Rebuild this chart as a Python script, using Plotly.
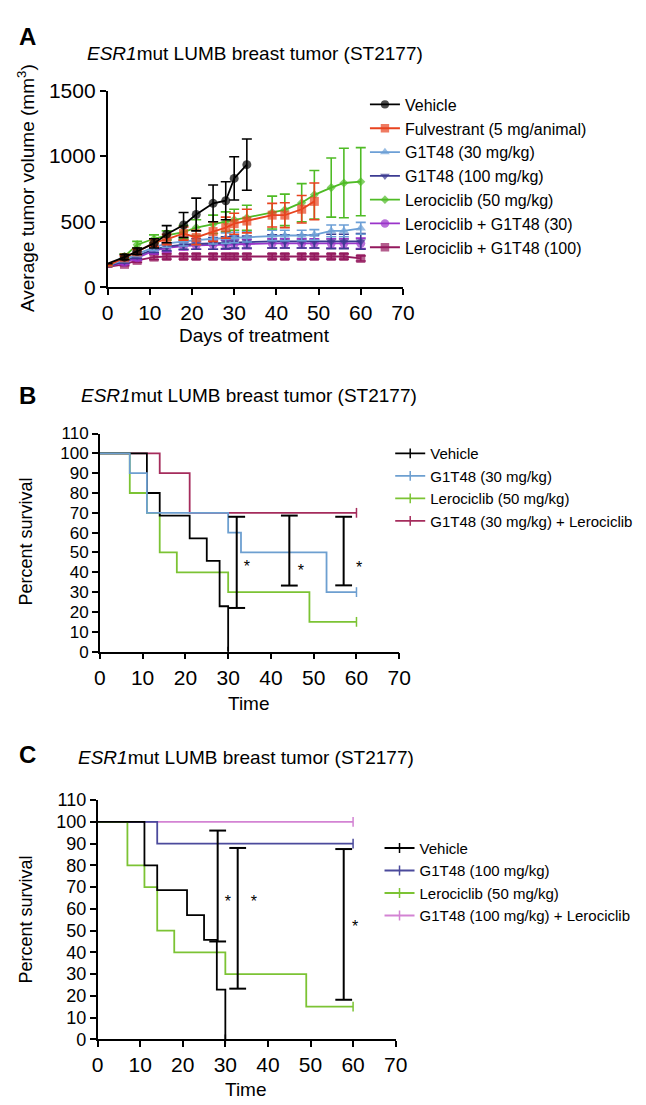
import plotly.graph_objects as go

W, H = 646, 1105
FONT = "Arial"

# ---------------- Panel A data (tumor volume, mm3) ----------------
days_vehicle = [0, 4, 7, 11, 14, 18, 21, 25, 28, 30, 33]
days_fulv = [0, 4, 7, 11, 14, 18, 21, 25, 28, 30, 33, 39, 42, 46, 49]
days_full = [0, 4, 7, 11, 14, 18, 21, 25, 28, 30, 33, 39, 42, 46, 49, 53, 56, 60]

vehicle_mean = [180, 230, 275, 335, 405, 475, 555, 640, 660, 830, 935]
vehicle_sem = [None, 20, 25, 35, 65, 95, 125, 140, 145, 165, 195]
fulv_mean = [165, 225, 270, 340, 365, 410, 380, 425, 455, 485, 505, 550, 550, 595, 655]
fulv_sem = [None, 15, 20, 30, 40, 50, 55, 75, 80, 80, 90, 90, 95, 105, 140]
g30_mean = [165, 210, 255, 305, 335, 350, 360, 370, 375, 380, 385, 395, 395, 395, 400, 430, 430, 450]
g30_sem = [None, 15, 20, 25, 30, 35, 35, 40, 40, 40, 40, 40, 40, 40, 40, 45, 45, 45]
g100_mean = [160, 200, 240, 290, 310, 325, 330, 335, 340, 345, 345, 350, 350, 350, 350, 350, 350, 350]
g100_sem = [None, 15, 20, 25, 30, 35, 40, 45, 45, 45, 45, 50, 50, 50, 50, 55, 55, 60]
lero_mean = [165, 235, 325, 370, 395, 420, 455, 480, 500, 515, 530, 570, 590, 645, 705, 760, 795, 805]
lero_sem = [None, 20, 25, 30, 35, 50, 60, 70, 75, 80, 95, 125, 120, 145, 185, 225, 265, 260]
lg30_mean = [160, 190, 225, 280, 300, 315, 320, 325, 325, 330, 330, 335, 335, 335, 335, 335, 335, 335]
lg30_sem = [None, 15, 20, 25, 30, 30, 30, 35, 35, 35, 35, 35, 35, 35, 35, 35, 35, 40]
lg100_mean = [155, 175, 205, 230, 235, 235, 235, 235, 235, 235, 235, 235, 235, 235, 235, 235, 235, 220]
lg100_sem = [None, 10, 15, 20, 20, 20, 20, 20, 20, 20, 20, 20, 20, 20, 20, 20, 20, 20]

labels_A = ["Vehicle", "Fulvestrant (5 mg/animal)", "G1T48 (30 mg/kg)", "G1T48 (100 mg/kg)",
            "Lerociclib (50 mg/kg)", "Lerociclib + G1T48 (30)", "Lerociclib + G1T48 (100)"]

# ---------------- Panel B / C data (percent survival) ----------------
veh_t = [0, 11, 14, 21, 25, 28, 30]
veh_s = [100, 80, 68.57, 57.14, 45.71, 22.86, 0]
g30_t = [0, 7, 11, 30, 33, 53, 60]
g30_s = [100, 90, 70, 60, 50, 30, 30]
lero_t = [0, 7, 11, 14, 18, 30, 49, 60]
lero_s = [100, 80, 70, 50, 40, 30, 15, 15]
combo30_t = [0, 14, 21, 60]
combo30_s = [100, 90, 70, 70]
g100_t = [0, 14, 60]
g100_s = [100, 90, 90]
combo100_t = [0, 60]
combo100_s = [100, 100]

labels_B = ["Vehicle", "G1T48 (30 mg/kg)", "Lerociclib (50 mg/kg)", "G1T48 (30 mg/kg) + Lerociclib"]
labels_C = ["Vehicle", "G1T48 (100 mg/kg)", "Lerociclib (50 mg/kg)", "G1T48 (100 mg/kg) + Lerociclib"]

# significance brackets (x, low, high) and stars
bracketB_x = [32, 44.3, 57]
bracketB_lo = [22, 33.3, 33.4]
bracketB_hi = [68, 68.6, 68]
starB_x = [34.4, 47, 60.6]
starB_y = [42, 40, 41.5]
bracketC_x = [28.2, 32.9, 57.8]
bracketC_lo = [45, 23.3, 18.2]
bracketC_hi = [96, 88, 87.5]
starC_x = [30.6, 36.7, 60.5]
starC_y = [62.5, 62.5, 51]

# ---------------- styles ----------------
C_BLACK = "#000000"
C_RED = "#e8431f"
C_LBLUE = "#6c9fd6"
C_NAVY = "#3c3b92"
C_GREEN = "#4fbb25"
C_PURPLE = "#9a33c9"
C_MAROON = "#94195e"

CB_BLUE = "#6d9fd0"
CB_GREEN = "#7cc334"
CB_MAROON = "#a52c5c"
CC_NAVY = "#4b4a9c"
CC_PINK = "#d383d3"

fig = go.Figure()


def px_x(p):
    return p / W


def px_y(p):
    return 1 - p / H


# ---------------- Panel A traces ----------------
specA = [
    (days_full, lg100_mean, lg100_sem, C_MAROON, "square", 9, 6),
    (days_full, lg30_mean, lg30_sem, C_PURPLE, "circle", 9, 5),
    (days_full, g100_mean, g100_sem, C_NAVY, "triangle-down", 9, 3),
    (days_full, g30_mean, g30_sem, C_LBLUE, "triangle-up", 9, 2),
    (days_full, lero_mean, lero_sem, C_GREEN, "diamond", 7, 4),
    (days_fulv, fulv_mean, fulv_sem, C_RED, "square", 9, 1),
    (days_vehicle, vehicle_mean, vehicle_sem, C_BLACK, "circle", 9, 0),
]
for xs, ys, es, col, sym, sz, li in specA:
    sizes = [0 if x == 0 else sz for x in xs]
    fig.add_trace(go.Scatter(
        x=xs, y=ys, mode="lines+markers", name=labels_A[li],
        line=dict(color=col, width=1.8),
        marker=dict(color=col, symbol=sym, size=sizes, line=dict(width=0)),
        error_y=dict(type="data", array=es, visible=True, color=col, thickness=1.6, width=5),
        xaxis="x", yaxis="y", legend="legend", legendrank=li + 1,
        cliponaxis=False,
    ))


# ---------------- survival helper ----------------
def add_survival(t, s, col, name, rank, ax, leg):
    xa, ya = ax
    fig.add_trace(go.Scatter(
        x=t, y=s, mode="lines", line=dict(color=col, width=1.8, shape="hv"),
        showlegend=False, xaxis=xa, yaxis=ya, hoverinfo="skip", cliponaxis=False,
    ))
    # censor tick at the end (also used as the legend entry)
    fig.add_trace(go.Scatter(
        x=[t[-1]], y=[s[-1]], mode="lines+markers", name=name,
        line=dict(color=col, width=1.8),
        marker=dict(symbol="line-ns", size=7, color=col, line=dict(color=col, width=1.5)),
        xaxis=xa, yaxis=ya, legend=leg, legendrank=rank, cliponaxis=False,
    ))


# Panel B (draw order: maroon, green, black, blue)
add_survival(combo30_t, combo30_s, CB_MAROON, labels_B[3], 4, ("x2", "y2"), "legend2")
add_survival(lero_t, lero_s, CB_GREEN, labels_B[2], 3, ("x2", "y2"), "legend2")
add_survival(veh_t, veh_s, C_BLACK, labels_B[0], 1, ("x2", "y2"), "legend2")
add_survival(g30_t, g30_s, CB_BLUE, labels_B[1], 2, ("x2", "y2"), "legend2")

# Panel C (draw order: pink, navy, green, black)
add_survival(combo100_t, combo100_s, CC_PINK, labels_C[3], 4, ("x3", "y3"), "legend3")
add_survival(g100_t, g100_s, CC_NAVY, labels_C[1], 2, ("x3", "y3"), "legend3")
add_survival(lero_t, lero_s, CB_GREEN, labels_C[2], 3, ("x3", "y3"), "legend3")
add_survival(veh_t, veh_s, C_BLACK, labels_C[0], 1, ("x3", "y3"), "legend3")


def add_brackets(bx, lo, hi, sx, sy, xa, ya):
    for xb, l, h in zip(bx, lo, hi):
        fig.add_trace(go.Scatter(
            x=[xb, xb], y=[l, h], mode="lines+markers",
            line=dict(color="black", width=2),
            marker=dict(symbol="line-ew", size=12, color="black", line=dict(color="black", width=2)),
            showlegend=False, xaxis=xa, yaxis=ya, hoverinfo="skip", cliponaxis=False,
        ))
    fig.add_trace(go.Scatter(
        x=sx, y=sy, mode="text", text=["*"] * len(sx),
        textfont=dict(family=FONT, size=16, color="black"),
        showlegend=False, xaxis=xa, yaxis=ya, hoverinfo="skip", cliponaxis=False,
    ))


add_brackets(bracketB_x, bracketB_lo, bracketB_hi, starB_x, starB_y, "x2", "y2")
add_brackets(bracketC_x, bracketC_lo, bracketC_hi, starC_x, starC_y, "x3", "y3")

# ---------------- axes ----------------
axis_common = dict(
    showline=True, linecolor="black", linewidth=1.6, mirror=False,
    ticks="outside", ticklen=6, tickwidth=1.6, tickcolor="black",
    showgrid=False, zeroline=False,
    tickfont=dict(family=FONT, size=21, color="black"),
)

domA_x = [px_x(96.3), px_x(400.1)]
domA_y = [px_y(273), px_y(72)]
domB_x = [px_x(88.3), px_x(396.3)]
domB_y = [px_y(645), px_y(422.3)]
domC_x = [px_x(86), px_x(392.6)]
domC_y = [px_y(1041), px_y(796.7)]

fig.update_layout(
    xaxis=dict(axis_common, domain=domA_x, range=[0, 70], tickvals=list(range(0, 71, 10)), anchor="y"),
    yaxis=dict(axis_common, domain=domA_y, range=[0, 1500], tickvals=[0, 500, 1000, 1500], anchor="x"),
    xaxis2=dict(axis_common, domain=domB_x, range=[0, 70], tickvals=list(range(0, 71, 10)), anchor="y2"),
    yaxis2=dict(axis_common, domain=domB_y, range=[0, 110], tickvals=list(range(0, 111, 10)), anchor="x2",
                tickfont=dict(family=FONT, size=17, color="black")),
    xaxis3=dict(axis_common, domain=domC_x, range=[0, 70], tickvals=list(range(0, 71, 10)), anchor="y3"),
    yaxis3=dict(axis_common, domain=domC_y, range=[0, 110], tickvals=list(range(0, 111, 10)), anchor="x3",
                tickfont=dict(family=FONT, size=18, color="black")),
)

legend_common = dict(
    bgcolor="rgba(0,0,0,0)", borderwidth=0, xanchor="left", yanchor="top",
    itemwidth=30, tracegroupgap=0, traceorder="normal",
)
fig.update_layout(
    legend=dict(legend_common, x=px_x(361), y=px_y(69), font=dict(family=FONT, size=16, color="black")),
    legend2=dict(legend_common, x=px_x(387), y=px_y(426), font=dict(family=FONT, size=15, color="black")),
    legend3=dict(legend_common, x=px_x(376), y=px_y(829), font=dict(family=FONT, size=15, color="black")),
)

# ---------------- text annotations ----------------
title_txt = "<i>ESR1</i>mut LUMB breast tumor (ST2177)"
ann = []


def add_text(text, x, y, size, bold=False, angle=0, xanchor="center"):
    ann.append(dict(
        text=("<b>%s</b>" % text) if bold else text, x=px_x(x), y=px_y(y),
        xref="paper", yref="paper", xanchor=xanchor, yanchor="middle",
        showarrow=False, textangle=angle, font=dict(family=FONT, size=size, color="black"),
    ))


add_text("A", 3, 17, 24, bold=True, xanchor="left")
add_text("B", 3, 383, 24, bold=True, xanchor="left")
add_text("C", 3, 750, 24, bold=True, xanchor="left")
add_text(title_txt, 248, 34, 19)
add_text(title_txt, 242, 383, 19)
add_text(title_txt, 239, 753, 19)
add_text("Average tumor volume (mm<sup>3</sup>)", 13, 172, 19, angle=-90)
add_text("Days of treatment", 247, 322, 19)
add_text("Percent survival", 12, 533, 18, angle=-90)
add_text("Time", 242, 698, 19)
add_text("Percent survival", 12, 919, 18, angle=-90)
add_text("Time", 239, 1092, 19)

fig.update_layout(
    annotations=ann,
    width=W, height=H,
    margin=dict(l=0, r=0, t=0, b=0),
    paper_bgcolor="white", plot_bgcolor="white",
    font=dict(family=FONT, color="black"),
)

fig.write_html("out.html")
